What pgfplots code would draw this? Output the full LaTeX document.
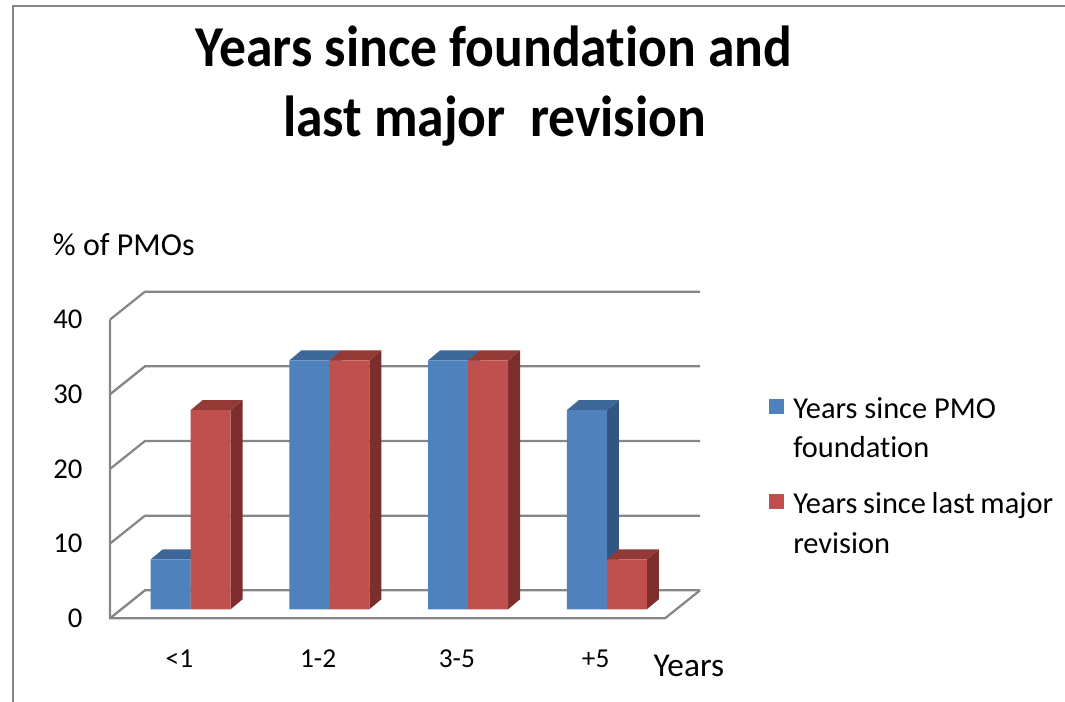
\documentclass[border=0pt]{standalone}
\usepackage{fontspec}
\setmainfont{Carlito}[Ligatures=NoCommon]
\usepackage{pgfplots}
\pgfplotsset{compat=1.18}
\definecolor{bluefront}{RGB}{79,129,189}
\definecolor{bluetop}{RGB}{61,103,152}
\definecolor{blueside}{RGB}{50,86,130}
\definecolor{redfront}{RGB}{192,80,77}
\definecolor{redtop}{RGB}{147,57,54}
\definecolor{redside}{RGB}{124,46,44}
\definecolor{gridgray}{RGB}{134,134,134}
\begin{document}
\begin{tikzpicture}
\path[use as bounding box] (0pt,0pt) rectangle (798.75pt,525.75pt);
\begin{scope}[x=0.75pt,y=0.75pt]
\draw[gridgray, line width=1.6pt] (13,-2) -- (13,695) -- (1067,695);
\node[font=\fontsize{40.2pt}{48pt}\selectfont\bfseries, anchor=base, inner sep=0pt] at (494,634.3) {\scalebox{1}[1.08]{Years since foundation and}};
\node[font=\fontsize{40.2pt}{48pt}\selectfont\bfseries, anchor=base, inner sep=0pt] at (494.5,564.3) {\scalebox{1}[1.08]{last major\ \ revision}};
\node[font=\fontsize{24pt}{29pt}\selectfont, anchor=base west, inner sep=0pt] at (52.7,445.3) {\% of PMOs};
\node[font=\fontsize{25pt}{29pt}\selectfont, anchor=base west, inner sep=0pt] at (653.3,25) {Years};
\end{scope}
\begin{axis}[
  at={(82.5pt,62.025pt)}, anchor=south west,
  scale only axis, width=416.25pt, height=224pt,
  xmin=-0.5, xmax=3.5, ymin=0, ymax=40,
  clip=false,
  axis line style={draw=none}, tick style={draw=none},
  xtick={0,1,2,3}, xticklabels={{<1},{1-2},{3-5},{+5}},
  ytick={0,10,20,30,40}, yticklabels={0,10,20,30,40},
  xticklabel style={font=\fontsize{20.5pt}{24pt}\selectfont, anchor=base, inner sep=0pt, yshift=-37pt},
  yticklabel style={font=\fontsize{21.5pt}{25pt}\selectfont, anchor=east, inner sep=0pt, xshift=-20.5pt},
  face/.style={draw=none, forget plot, xshift=8.4pt, yshift=6.75pt},
  legend image code/.code={\fill[#1] (0pt,-3.95pt) rectangle (11.25pt,7.3pt);},
  legend style={draw=none, fill=none, at={(1.1874,0.741)}, anchor=north west,
    inner sep=0pt, nodes={inner sep=0pt}, column sep=6.75pt, row sep=54.3pt,
    font=\fontsize{22.8pt}{29.8pt}\selectfont, cells={anchor=west}},
]
% walls and gridlines
\draw[gridgray, line width=1.7pt] (axis cs:-0.5,40) -- (axis cs:-0.5,0) -- (axis cs:3.5,0) -- ++(26.25pt,21pt);
\draw[gridgray, line width=1.7pt] (axis cs:-0.5,0) -- ++(26.25pt,21pt) -- ++(416.25pt,0pt);
\draw[gridgray, line width=1.7pt] (axis cs:-0.5,10) -- ++(26.25pt,21pt) -- ++(416.25pt,0pt);
\draw[gridgray, line width=1.7pt] (axis cs:-0.5,20) -- ++(26.25pt,21pt) -- ++(416.25pt,0pt);
\draw[gridgray, line width=1.7pt] (axis cs:-0.5,30) -- ++(26.25pt,21pt) -- ++(416.25pt,0pt);
\draw[gridgray, line width=1.7pt] (axis cs:-0.5,40) -- ++(26.25pt,21pt) -- ++(416.25pt,0pt);
% blue series: side faces, top faces, front faces
\addplot[face, fill=blueside] coordinates {(0,0) (0,6.67) (0.0865,8.01) (0.0865,1.34)};
\addplot[face, fill=blueside] coordinates {(1,0) (1,33.33) (1.0865,34.67) (1.0865,1.34)};
\addplot[face, fill=blueside] coordinates {(2,0) (2,33.33) (2.0865,34.67) (2.0865,1.34)};
\addplot[face, fill=blueside] coordinates {(3,0) (3,26.67) (3.0865,28.01) (3.0865,1.34)};
\addplot[face, fill=bluetop] coordinates {(-0.2883,6.67) (0,6.67) (0.0865,8.01) (-0.2018,8.01)};
\addplot[face, fill=bluetop] coordinates {(0.7117,33.33) (1,33.33) (1.0865,34.67) (0.7982,34.67)};
\addplot[face, fill=bluetop] coordinates {(1.7117,33.33) (2,33.33) (2.0865,34.67) (1.7982,34.67)};
\addplot[face, fill=bluetop] coordinates {(2.7117,26.67) (3,26.67) (3.0865,28.01) (2.7982,28.01)};
\addplot[face, ybar, bar width=0.2883, bar shift=-0.14415, fill=bluefront] coordinates {(0,6.67) (1,33.33) (2,33.33) (3,26.67)};
% red series
\addplot[face, fill=redside] coordinates {(0.2883,0) (0.2883,26.67) (0.3748,28.01) (0.3748,1.34)};
\addplot[face, fill=redside] coordinates {(1.2883,0) (1.2883,33.33) (1.3748,34.67) (1.3748,1.34)};
\addplot[face, fill=redside] coordinates {(2.2883,0) (2.2883,33.33) (2.3748,34.67) (2.3748,1.34)};
\addplot[face, fill=redside] coordinates {(3.2883,0) (3.2883,6.67) (3.3748,8.01) (3.3748,1.34)};
\addplot[face, fill=redtop] coordinates {(0,26.67) (0.2883,26.67) (0.3748,28.01) (0.0865,28.01)};
\addplot[face, fill=redtop] coordinates {(1,33.33) (1.2883,33.33) (1.3748,34.67) (1.0865,34.67)};
\addplot[face, fill=redtop] coordinates {(2,33.33) (2.2883,33.33) (2.3748,34.67) (2.0865,34.67)};
\addplot[face, fill=redtop] coordinates {(3,6.67) (3.2883,6.67) (3.3748,8.01) (3.0865,8.01)};
\addplot[face, ybar, bar width=0.2883, bar shift=0.14415, fill=redfront] coordinates {(0,26.67) (1,33.33) (2,33.33) (3,6.67)};
\addlegendimage{fill=bluefront, draw=none}
\addlegendentry{\parbox[t]{195pt}{\fontsize{22.8pt}{29.8pt}\selectfont Years since PMO\\foundation}}
\addlegendimage{fill=redfront, draw=none}
\addlegendentry{\parbox[t]{195pt}{\fontsize{22.8pt}{29.8pt}\selectfont Years since last major\\revision}}
\end{axis}
\end{tikzpicture}
\end{document}
